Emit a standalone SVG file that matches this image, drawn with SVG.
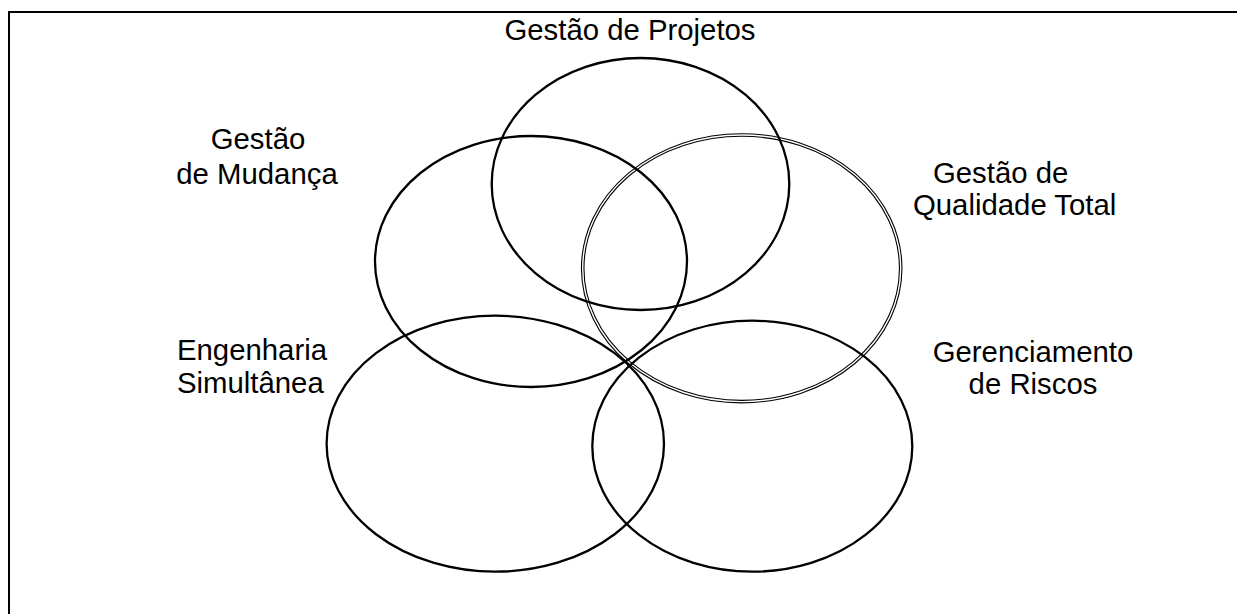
<svg xmlns="http://www.w3.org/2000/svg" width="1237" height="614" viewBox="0 0 1237 614">
<style>
.ell{fill:none;stroke:#000;stroke-width:2.3}
.dbl-o{fill:none;stroke:#000;stroke-width:3.6}
.dbl-i{fill:none;stroke:#fff;stroke-width:1.4}
.lbl{font-family:"Liberation Sans",Arial,sans-serif;font-size:29.33px;fill:#000}
.frame{stroke:#000;stroke-width:2;fill:none}
</style>
<rect width="1237" height="614" fill="#fff"/>
<path class="frame" d="M9 614 V12 H1237"/>
<g id="node-qualidade">
<ellipse class="dbl-o" cx="741.7" cy="268.3" rx="159" ry="133.3"/>
<ellipse class="dbl-i" cx="741.7" cy="268.3" rx="159" ry="133.3"/>
<text class="lbl" x="933" y="183">Gestão de</text>
<text class="lbl" x="913" y="215">Qualidade Total</text>
</g>
<g id="node-projetos">
<ellipse class="ell" cx="640.5" cy="184" rx="148.8" ry="126"/>
<text class="lbl" x="630" y="40" text-anchor="middle">Gestão de Projetos</text>
</g>
<g id="node-mudanca">
<ellipse class="ell" cx="531" cy="261.5" rx="156" ry="125.5"/>
<text class="lbl" x="258" y="149" text-anchor="middle">Gestão</text>
<text class="lbl" x="257" y="183.5" text-anchor="middle">de Mudança</text>
</g>
<g id="node-engenharia">
<ellipse class="ell" cx="495.3" cy="443.7" rx="168.7" ry="128"/>
<text class="lbl" x="177" y="360">Engenharia</text>
<text class="lbl" x="177" y="393">Simultânea</text>
</g>
<g id="node-riscos">
<ellipse class="ell" cx="752.3" cy="446.2" rx="160" ry="125.5"/>
<text class="lbl" x="1033" y="362" text-anchor="middle">Gerenciamento</text>
<text class="lbl" x="1033" y="393.5" text-anchor="middle">de Riscos</text>
</g>
<g id="connectors"></g>
</svg>
